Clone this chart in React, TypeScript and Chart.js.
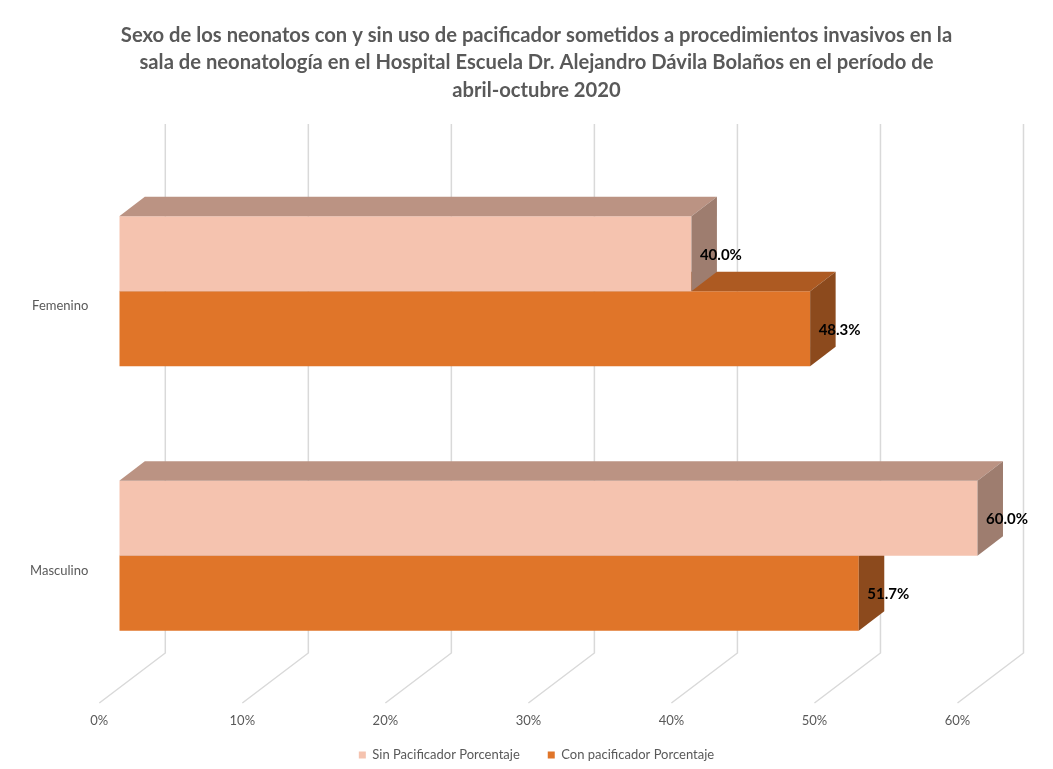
import React, { useEffect, useRef } from 'react';
import { Chart, registerables } from 'chart.js';

Chart.register(...registerables);

// ---------- data ----------
const categories = ['Femenino', 'Masculino'];
const sinPacificador = [40.0, 60.0];
const conPacificador = [48.3, 51.7];
const seriesNames = ['Sin Pacificador Porcentaje', 'Con pacificador Porcentaje'];
const xTickValues = [0, 10, 20, 30, 40, 50, 60];
const titleLines = [
  'Sexo de los neonatos con y sin uso de pacificador sometidos a procedimientos invasivos en la',
  'sala de neonatología en el Hospital Escuela Dr. Alejandro Dávila Bolaños en el período de',
  'abril-octubre 2020',
];

// ---------- styles ----------
const FRONT = ['#F5C3AF', '#E07529'];
const TOP = ['#BB9383', '#AD5A22'];
const SIDE = ['#9E7D6F', '#8C4A1D'];
const DEPTH = { dx: 25.5, dy: -19.5 };
const WALL = { dx: 46, dy: -35 };
const FLOOR = { dx: -20, dy: 15 };
const TEXT = '#595959';
const GRID = '#D9D9D9';

function poly(ctx: CanvasRenderingContext2D, pts: number[][]) {
  ctx.beginPath();
  ctx.moveTo(pts[0][0], pts[0][1]);
  for (let i = 1; i < pts.length; i++) ctx.lineTo(pts[i][0], pts[i][1]);
  ctx.closePath();
  ctx.fill();
}

const bar3d = {
  id: 'bar3d',
  beforeDatasetsDraw(chart: any) {
    const { ctx, chartArea, scales } = chart;
    const x = scales.x;
    ctx.save();
    ctx.strokeStyle = GRID;
    ctx.lineWidth = 1.5;
    x.ticks.forEach((t: any) => {
      const px = x.getPixelForValue(t.value);
      ctx.beginPath();
      ctx.moveTo(px + WALL.dx, chartArea.top + WALL.dy);
      ctx.lineTo(px + WALL.dx, chartArea.bottom + WALL.dy);
      ctx.lineTo(px + FLOOR.dx, chartArea.bottom + FLOOR.dy);
      ctx.stroke();
    });
    ctx.restore();
  },
  afterDatasetDraw(chart: any, args: any) {
    const { ctx } = chart;
    const i = args.index;
    ctx.save();
    args.meta.data.forEach((bar: any) => {
      const { x, y, base, height } = bar.getProps(['x', 'y', 'base', 'height'], true);
      const t = y - height / 2;
      const b = y + height / 2;
      ctx.fillStyle = TOP[i];
      poly(ctx, [[base, t], [base + DEPTH.dx, t + DEPTH.dy], [x + DEPTH.dx, t + DEPTH.dy], [x, t]]);
      ctx.fillStyle = SIDE[i];
      poly(ctx, [[x, t], [x + DEPTH.dx, t + DEPTH.dy], [x + DEPTH.dx, b + DEPTH.dy], [x, b]]);
    });
    ctx.restore();
  },
  afterDatasetsDraw(chart: any) {
    const { ctx } = chart;
    ctx.save();
    ctx.font = 'bold 15px Lato';
    ctx.fillStyle = '#000000';
    ctx.textAlign = 'left';
    ctx.textBaseline = 'middle';
    chart.data.datasets.forEach((ds: any, di: number) => {
      const meta = chart.getDatasetMeta(di);
      meta.data.forEach((bar: any, j: number) => {
        const { x, y } = bar.getProps(['x', 'y'], true);
        ctx.fillText(`${Number(ds.data[j]).toFixed(1)}%`, x + 8.5, y + 1);
      });
    });
    ctx.restore();
  },
};

export default function App() {
  const ref = useRef<HTMLCanvasElement>(null);
  useEffect(() => {
    if (!ref.current) return;
    Chart.defaults.font.family = 'Lato';
    const chart = new Chart(ref.current, {
      type: 'bar',
      data: {
        labels: categories,
        datasets: [
          { label: seriesNames[0], data: sinPacificador, backgroundColor: FRONT[0], borderWidth: 0 },
          { label: seriesNames[1], data: conPacificador, backgroundColor: FRONT[1], borderWidth: 0 },
        ],
      },
      options: {
        indexAxis: 'y',
        responsive: false,
        animation: false,
        events: [],
        devicePixelRatio: 1,
        datasets: { bar: { barPercentage: 1, categoryPercentage: 0.567 } },
        layout: { padding: { left: 24, right: 4, top: 0, bottom: -2.5 } },
        scales: {
          x: {
            type: 'linear',
            min: 0,
            max: 65,
            afterBuildTicks: (s: any) => {
              s.ticks = xTickValues.map((v) => ({ value: v }));
            },
            afterFit: (s: any) => {
              s.height = 32.5;
              // let tick labels extend below the (thin) axis box
              s._computeLabelArea = () => undefined;
            },
            ticks: {
              callback: (v: any) => `${v}%`,
              labelOffset: -20,
              padding: 24.9,
              color: TEXT,
              font: { size: 13 },
              maxRotation: 0,
            },
            grid: { display: false, drawTicks: false },
            border: { display: false },
          },
          y: {
            type: 'category',
            afterFit: (s: any) => {
              s.width = 95.3;
            },
            ticks: { labelOffset: 15, padding: 31, color: TEXT, font: { size: 13 } },
            grid: { display: false, drawTicks: false },
            border: { display: false },
          },
        },
        plugins: {
          title: {
            display: true,
            text: titleLines,
            color: TEXT,
            font: { size: 20.2, weight: 'bold', lineHeight: 27.5 / 20.2 },
            padding: { top: 21.25, bottom: 55.25 },
          },
          legend: {
            position: 'bottom',
            labels: { boxWidth: 7, boxHeight: 7, padding: 28, color: TEXT, font: { size: 13 } },
          },
          tooltip: { enabled: false },
        },
      },
      plugins: [bar3d],
    } as any);
    return () => chart.destroy();
  }, []);
  return (
    <div style={{ position: 'fixed', left: 0, top: 0, width: 1053, height: 769, background: '#fff' }}>
      <canvas ref={ref} width={1053} height={769} />
    </div>
  );
}
